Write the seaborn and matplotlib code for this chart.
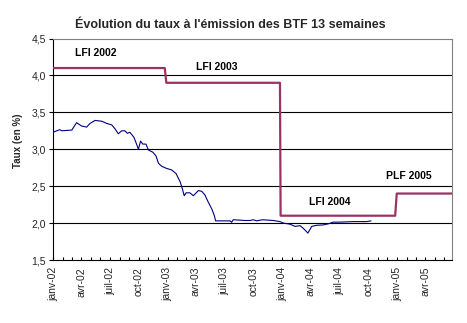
import matplotlib
matplotlib.use("Agg")
import matplotlib.pyplot as plt
import matplotlib.dates as mdates
import seaborn as sns
import pandas as pd

# ---- data ----
rate_dates = ['2002-01-01', '2002-01-13', '2002-01-23', '2002-01-29', '2002-03-02', '2002-03-17',
              '2002-04-02', '2002-04-18', '2002-04-29', '2002-05-15', '2002-06-05', '2002-06-21',
              '2002-07-07', '2002-07-17', '2002-07-28', '2002-08-08', '2002-08-18', '2002-08-26',
              '2002-09-03', '2002-09-16', '2002-09-25', '2002-09-30', '2002-10-07', '2002-10-14',
              '2002-10-24', '2002-11-01', '2002-11-15', '2002-11-25', '2002-12-03', '2002-12-13',
              '2002-12-29', '2003-01-14', '2003-01-28', '2003-02-10', '2003-02-18', '2003-02-23',
              '2003-03-01', '2003-03-13', '2003-03-24', '2003-04-09', '2003-04-20', '2003-04-30',
              '2003-05-11', '2003-05-22', '2003-05-30', '2003-06-03', '2003-07-19', '2003-07-24',
              '2003-07-29', '2003-09-05', '2003-09-21', '2003-10-01', '2003-10-12', '2003-10-23',
              '2003-11-02', '2003-11-17', '2003-12-04', '2003-12-25', '2004-01-05', '2004-01-26',
              '2004-02-11', '2004-02-27', '2004-03-08', '2004-03-23', '2004-04-04', '2004-04-20',
              '2004-05-11', '2004-05-27', '2004-06-12', '2004-07-03', '2004-08-14', '2004-09-26',
              '2004-10-10']
rate_values = [3.23, 3.25, 3.265, 3.25, 3.26, 3.36,
               3.315, 3.30, 3.35, 3.39, 3.38, 3.35,
               3.33, 3.28, 3.21, 3.25, 3.25, 3.215,
               3.23, 3.16, 3.06, 3.00, 3.11, 3.07,
               3.07, 2.99, 2.96, 2.91, 2.81, 2.77,
               2.74, 2.72, 2.67, 2.56, 2.45, 2.37,
               2.41, 2.41, 2.37, 2.44, 2.43, 2.38,
               2.28, 2.19, 2.10, 2.03, 2.03, 2.01,
               2.045, 2.035, 2.035, 2.045, 2.03, 2.04,
               2.045, 2.04, 2.035, 2.02, 2.00, 1.985,
               1.955, 1.965, 1.93, 1.865, 1.955, 1.97,
               1.975, 1.99, 2.013, 2.013, 2.02, 2.02,
               2.03]

law_dates = ['2002-01-01', '2002-12-23', '2002-12-28', '2003-12-25', '2003-12-27',
             '2004-12-26', '2004-12-31', '2005-06-25']
law_values = [4.1, 4.1, 3.9, 3.9, 2.1, 2.1, 2.4, 2.4]

law_labels = ['LFI 2002', 'LFI 2003', 'LFI 2004', 'PLF 2005']
law_label_dates = ['2002-05-18', '2003-06-06', '2004-06-01', '2005-02-08']
law_label_values = [4.31, 4.12, 2.29, 2.64]

tick_dates = ['2002-01-01', '2002-04-01', '2002-07-01', '2002-10-01',
              '2003-01-01', '2003-04-01', '2003-07-01', '2003-10-01',
              '2004-01-01', '2004-04-01', '2004-07-01', '2004-10-01',
              '2005-01-01', '2005-04-01']
tick_labels = ['janv-02', 'avr-02', 'juil-02', 'oct-02',
               'janv-03', 'avr-03', 'juil-03', 'oct-03',
               'janv-04', 'avr-04', 'juil-04', 'oct-04',
               'janv-05', 'avr-05']
y_ticks = [1.5, 2.0, 2.5, 3.0, 3.5, 4.0, 4.5]
y_tick_labels = ['1,5', '2,0', '2,5', '3,0', '3,5', '4,0', '4,5']

title = "Évolution du taux à l'émission des BTF 13 semaines"
ylabel = 'Taux (en %)'

# ---- figure ----
sns.set_style('white')
plt.rcParams['font.family'] = ['Liberation Sans', 'DejaVu Sans']

W, H = 467, 323
fig = plt.figure(figsize=(W / 100, H / 100), dpi=100)
ax = fig.add_axes([53 / W, 1 - 260 / H, (452 - 53) / W, (260 - 38.5) / H])

rate_df = pd.DataFrame({'date': pd.to_datetime(rate_dates), 'taux': rate_values})
law_df = pd.DataFrame({'date': pd.to_datetime(law_dates), 'taux': law_values})

for yv in y_ticks[1:-1]:
    ax.axhline(yv, color='black', lw=0.8, zorder=1)

sns.lineplot(data=law_df, x='date', y='taux', ax=ax, color='#993366', lw=1.6,
             estimator=None, sort=False, zorder=3)
sns.lineplot(data=rate_df, x='date', y='taux', ax=ax, color='#000080', lw=0.8,
             estimator=None, sort=False, zorder=4)

for lab, d, v in zip(law_labels, law_label_dates, law_label_values):
    ax.text(pd.Timestamp(d), v, lab, ha='center', va='center', fontsize=7.5,
            fontweight='bold', color='black')

ax.set_xlim(pd.Timestamp('2002-01-01'), pd.Timestamp('2005-06-25'))
ax.set_ylim(1.5, 4.5)
ax.set_yticks(y_ticks)
ax.set_yticklabels(y_tick_labels, fontsize=7.5)
ax.set_xticks(pd.to_datetime(tick_dates))
ax.set_xticklabels(tick_labels, rotation=90, fontsize=7.5)
ax.xaxis.set_minor_locator(mdates.MonthLocator())
ax.tick_params(axis='x', which='both', direction='in', length=2.5, width=0.8, pad=5,
               color='black', bottom=True)
ax.tick_params(axis='y', direction='out', length=3, width=0.8, pad=2, color='black', left=True)
ax.set_xlabel('')
ax.set_ylabel('')

for s in ['left', 'bottom']:
    ax.spines[s].set_color('black')
    ax.spines[s].set_linewidth(0.8)
for s in ['top', 'right']:
    ax.spines[s].set_color('#808080')
    ax.spines[s].set_linewidth(0.8)

fig.text(230 / W, 1 - 28 / H, title, ha='center', va='baseline', fontsize=9, fontweight='bold')
fig.text(18 / W, 1 - 141 / H, ylabel, ha='center', va='center', rotation=90,
         fontsize=7, fontweight='bold')

fig.savefig('out.png', dpi=100, facecolor='white')
